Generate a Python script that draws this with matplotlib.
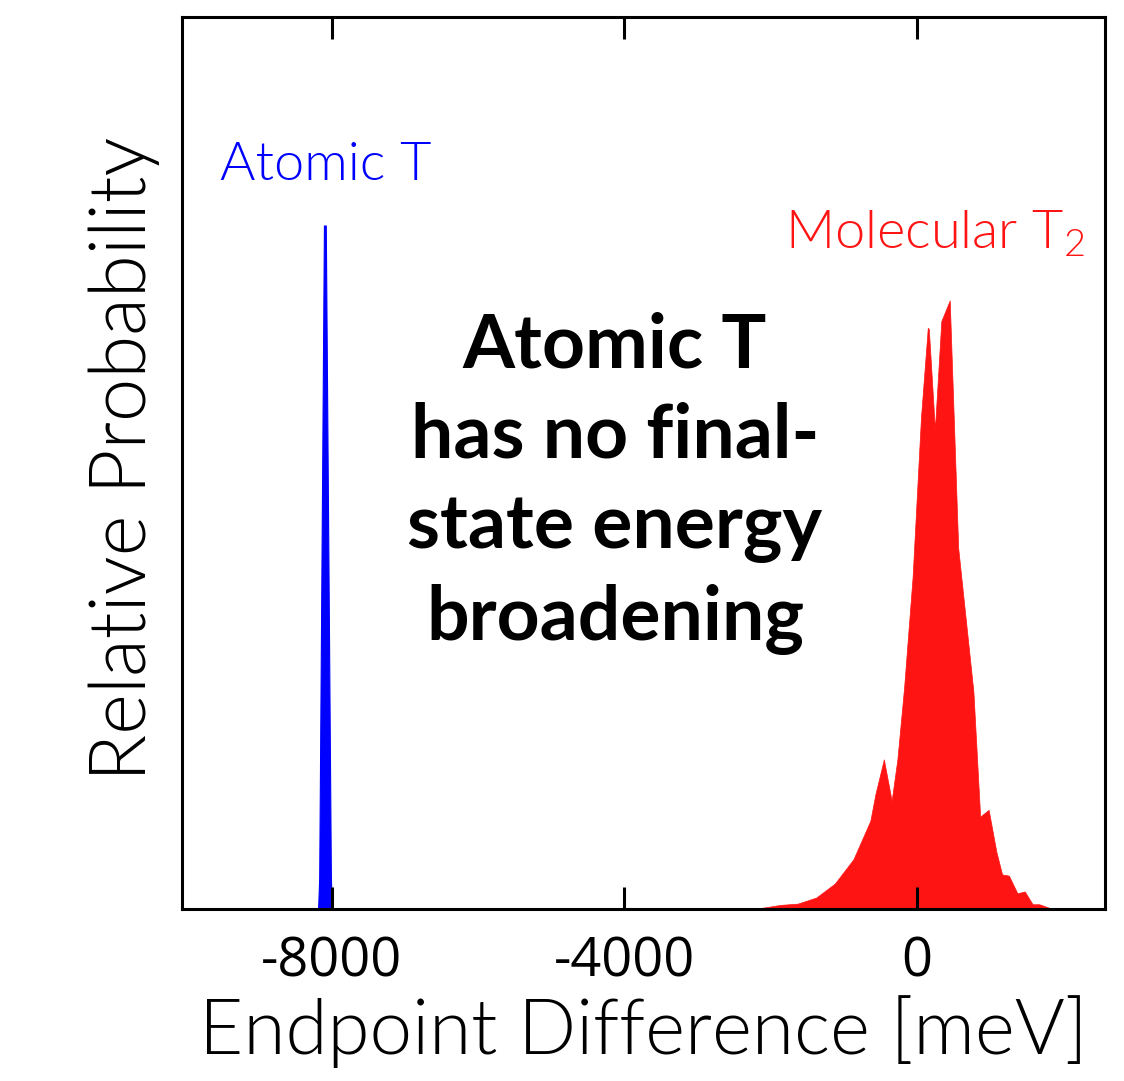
import matplotlib
matplotlib.use("Agg")
import matplotlib.pyplot as plt
import numpy as np

# Data (meV, relative probability)
atomic_x = [-8190, -8175, -8110, -8085, -8015, -8000]
atomic_y = [0.0, 0.05, 1.123, 1.123, 0.05, 0.0]

molecular_x = [-2232, -1862, -1631, -1377, -1123, -869, -638, -568, -453, -346, -268, -176,
               -60, 55, 148, 162, 245, 333, 448, 564, 772, 864, 980, 1086, 1164, 1257,
               1373, 1474, 1581, 1673, 1858]
molecular_y = [0.0, 0.007, 0.009, 0.019, 0.042, 0.082, 0.145, 0.189, 0.246, 0.178, 0.246,
               0.364, 0.545, 0.808, 0.955, 0.953, 0.788, 0.966, 1.0, 0.593, 0.357, 0.152,
               0.163, 0.094, 0.057, 0.055, 0.026, 0.029, 0.008, 0.008, 0.0]

xticks = [-8000, -4000, 0]
xticklabels = ["-8000", "-4000", "0"]

LW = 300  # Lato Light

plt.rcParams['font.family'] = ['Lato', 'DejaVu Sans']
plt.rcParams['mathtext.fontset'] = 'custom'
plt.rcParams['mathtext.rm'] = 'Lato:weight=300'
plt.rcParams['mathtext.it'] = 'Lato:weight=300'

fig = plt.figure(figsize=(11.24, 10.81), dpi=100)
ax = fig.add_axes([0.162, 0.159, 0.821, 0.825])

ax.fill_between(atomic_x, atomic_y, 0, color='#0000ff', linewidth=0.8, edgecolor='#0000ff')
ax.fill_between(molecular_x, molecular_y, 0, color='#ff1414', linewidth=0.5, edgecolor='#ff1414')

ax.set_xlim(-10050, 2570)
ax.set_ylim(0, 1.465)

ax.set_xticks(xticks)
ax.set_xticklabels(xticklabels, family=['Open Sans', 'DejaVu Sans'], fontsize=39)
ax.set_yticks([])
ax.tick_params(axis='x', direction='in', top=True, bottom=True, length=16, width=2.2, pad=18)
for s in ax.spines.values():
    s.set_linewidth(2.2)

ax.set_xlabel("Endpoint Difference [meV]", fontsize=55, fontweight=LW, labelpad=4)
ax.set_ylabel("Relative Probability", fontsize=56, fontweight=LW)
ax.yaxis.set_label_coords(-0.024, 0.505)

ax.text(-8080, 1.221, "Atomic T", color='#0000ff', fontsize=39, fontweight=LW,
        ha='center', va='center')
ax.text(246, 1.109, "Molecular T$_2$", color='#ff1414', fontsize=39, fontweight=LW,
        ha='center', va='center')

ax.text(-4131, 0.70, "Atomic T\nhas no final-\nstate energy\nbroadening", fontsize=54,
        fontweight='bold', ha='center', va='center', linespacing=1.38)

fig.savefig("out.png", dpi=100)
